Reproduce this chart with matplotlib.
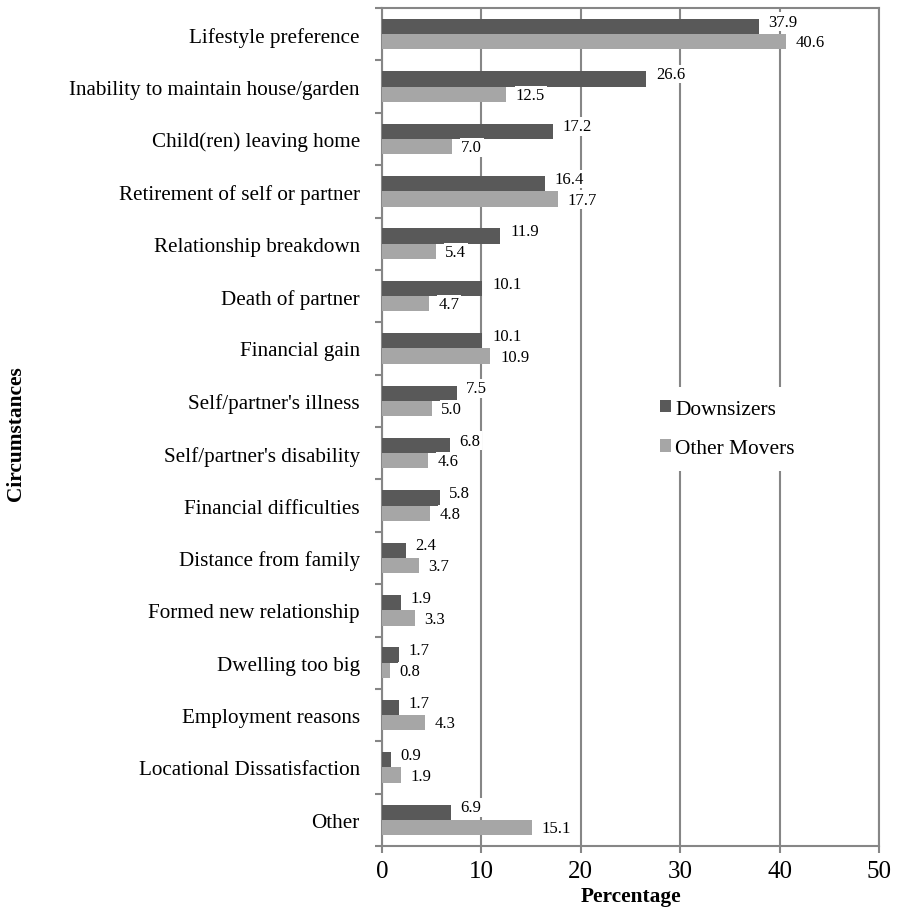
import matplotlib

matplotlib.use("Agg")
import matplotlib.pyplot as plt
import numpy as np

plt.rcParams["font.family"] = "Liberation Serif"

CATEGORIES = [
    "Lifestyle preference",
    "Inability to maintain house/garden",
    "Child(ren) leaving home",
    "Retirement of self or partner",
    "Relationship breakdown",
    "Death of partner",
    "Financial gain",
    "Self/partner's illness",
    "Self/partner's disability",
    "Financial difficulties",
    "Distance from family",
    "Formed new relationship",
    "Dwelling too big",
    "Employment reasons",
    "Locational Dissatisfaction",
    "Other",
]
DOWNSIZERS = [37.9, 26.6, 17.2, 16.4, 11.9, 10.1, 10.1, 7.5, 6.8, 5.8, 2.4, 1.9, 1.7, 1.7, 0.9, 6.9]
OTHER_MOVERS = [40.6, 12.5, 7.0, 17.7, 5.4, 4.7, 10.9, 5.0, 4.6, 4.8, 3.7, 3.3, 0.8, 4.3, 1.9, 15.1]

DARK = "#595959"
LIGHT = "#A6A6A6"
GRID = "#868686"

fig = plt.figure(figsize=(9.01, 9.12), dpi=100)
ax = fig.add_axes([382 / 901, 1 - 847 / 912, 497 / 901, 838 / 912])

y = np.arange(len(CATEGORIES))
h = 0.29
ax.barh(y - h / 2, DOWNSIZERS, height=h, color=DARK, label="Downsizers", zorder=3)
ax.barh(y + h / 2, OTHER_MOVERS, height=h, color=LIGHT, label="Other Movers", zorder=3)

for yi, d, o in zip(y, DOWNSIZERS, OTHER_MOVERS):
    ax.annotate(f"{d:.1f}", (d, yi - h / 2), xytext=(7, 3.5), textcoords="offset points",
                ha="left", va="center", fontsize=12,
                bbox=dict(facecolor="white", edgecolor="none", pad=1), zorder=4)
    ax.annotate(f"{o:.1f}", (o, yi + h / 2), xytext=(7, -0.5), textcoords="offset points",
                ha="left", va="center", fontsize=12,
                bbox=dict(facecolor="white", edgecolor="none", pad=1), zorder=4)

ax.set_xlim(0, 50)
ax.set_ylim(len(CATEGORIES) - 0.5, -0.5)
ax.set_xticks([0, 10, 20, 30, 40, 50])
ax.tick_params(axis="x", labelsize=18, length=5, color=GRID, width=1.5, pad=5)

ax.set_yticks(y)
ax.set_yticklabels(CATEGORIES, fontsize=15.2)
ax.tick_params(axis="y", length=0, pad=16)
ax.set_yticks(np.arange(-0.5, len(CATEGORIES)), minor=True)
ax.tick_params(axis="y", which="minor", length=5, color=GRID, width=1.5)

ax.grid(axis="x", color=GRID, linewidth=1.5, zorder=0)
ax.set_axisbelow(True)
for s in ax.spines.values():
    s.set_color(GRID)
    s.set_linewidth(1.5)

ax.set_xlabel("Percentage", fontsize=15.4, fontweight="bold", labelpad=3)
fig.text(16 / 901, 1 - 434 / 912, "Circumstances", rotation=90, fontsize=15.4,
         fontweight="bold", ha="center", va="center")

leg = ax.legend(loc="center left", bbox_to_anchor=(0.513, 0.4976), fontsize=15.4,
                frameon=True, fancybox=False, edgecolor="none", framealpha=1,
                handlelength=0.5, handleheight=0.5, handletextpad=0.2,
                labelspacing=0.95, borderpad=0.6)

fig.savefig("out.png", dpi=100)
